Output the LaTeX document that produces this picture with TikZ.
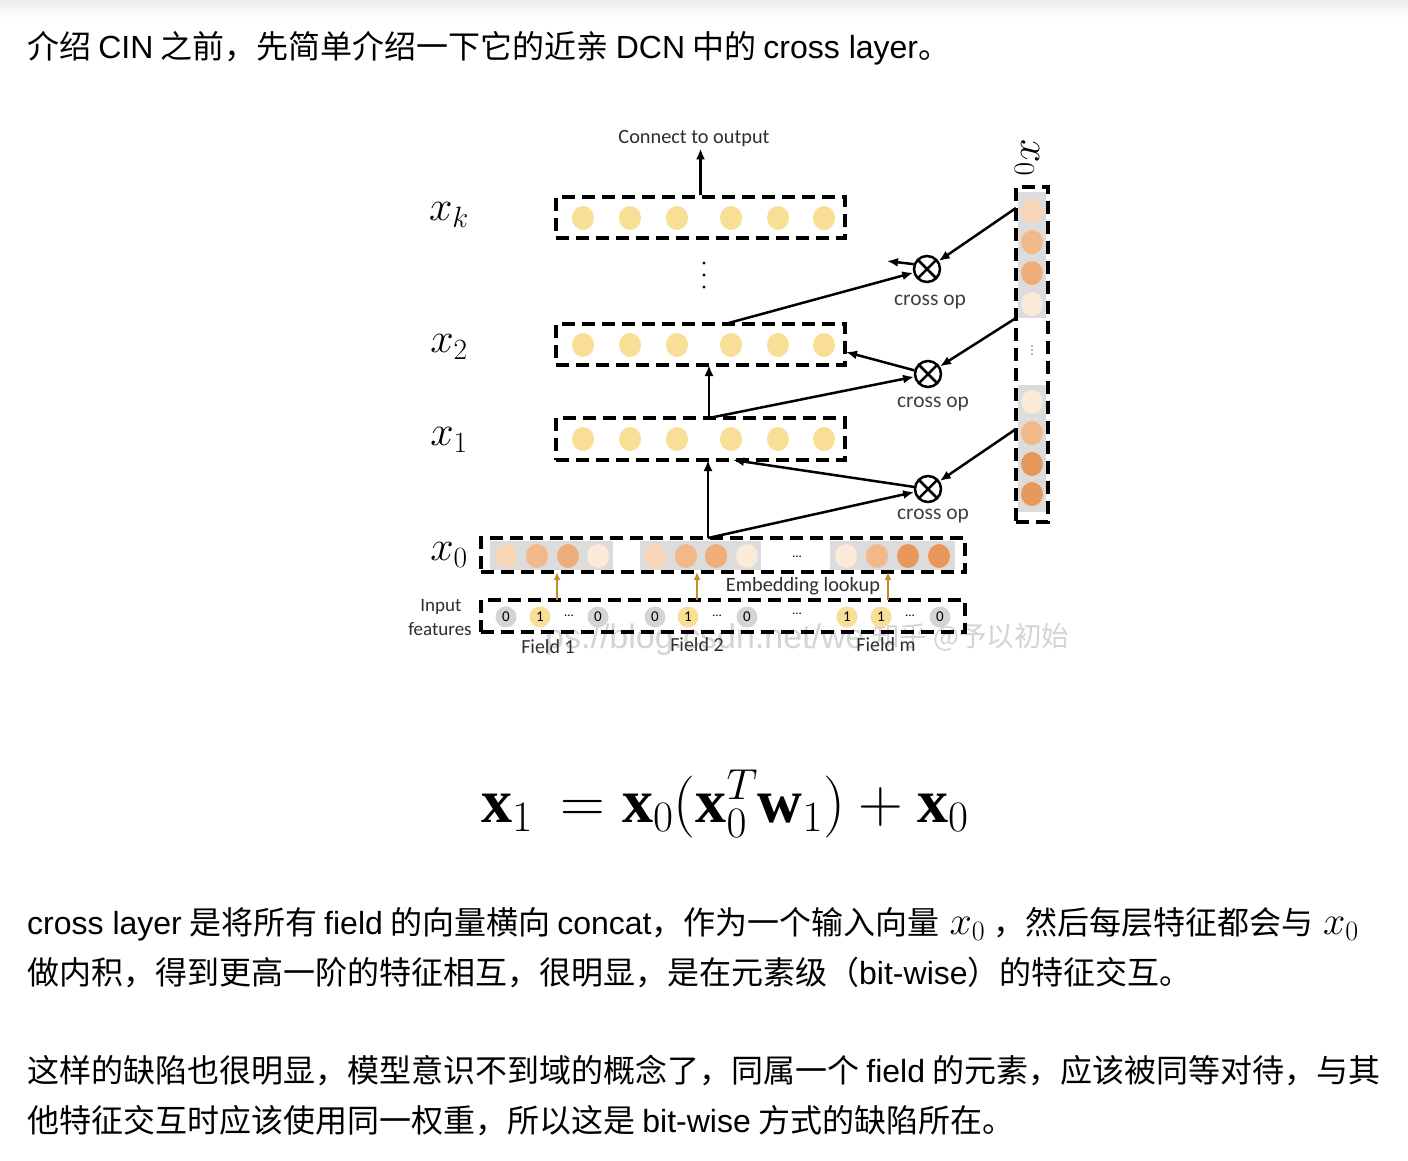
\RequirePackage{fix-cm}
\documentclass[tikz,border=0pt]{standalone}
\usepackage{amsmath}
\usepackage{fontspec}
\setmainfont{Noto Sans CJK SC}
\newfontfamily\lat{Liberation Sans}
\newfontfamily\calib{Carlito}
\newfontfamily\wmfont{Liberation Sans}
\newfontfamily\tms{Liberation Serif}
\newcommand\bx{\text{\tms\bfseries x}}
\newcommand\bw{\text{\tms\bfseries w}}
\newcommand\mxo{{\fontsize{40}{40}\selectfont$x_0$}}
\usetikzlibrary{arrows.meta}
\definecolor{ycol}{RGB}{249,222,150}
\definecolor{gbox}{RGB}{220,220,220}
\definecolor{oa}{RGB}{247,213,182}
\definecolor{ob}{RGB}{241,185,138}
\definecolor{oc}{RGB}{238,174,124}
\definecolor{od}{RGB}{251,234,216}
\definecolor{oe}{RGB}{233,152,92}
\definecolor{goldarr}{RGB}{190,145,40}
\definecolor{incg}{RGB}{212,212,212}
\definecolor{wm}{RGB}{212,212,212}
\tikzset{
  dbox/.style={draw, line width=3.2pt, dash pattern=on 13pt off 7pt, inner sep=0pt},
  conn/.style={line width=2.5pt, -{Latex[length=11pt,width=9pt]}},
  goldconn/.style={draw=goldarr, line width=2.2pt, -{Latex[length=8pt,width=7pt]}},
  crossop/.style={circle, draw, line width=2.5pt, minimum size=26pt, inner sep=0pt,
    path picture={\draw[line width=2.5pt] (path picture bounding box.north west)--(path picture bounding box.south east)
      (path picture bounding box.north east)--(path picture bounding box.south west);}},
  lbl/.style={font=\calib\fontsize{20.3}{22}\selectfont, text=black!82, inner sep=1pt},
  crosslbl/.style={font=\calib\fontsize{21.5}{22}\selectfont, text=black!75, inner sep=1pt},
  smalllbl/.style={font=\calib\fontsize{19}{20}\selectfont, text=black!82, inner sep=1pt},
  fieldlbl/.style={font=\calib\fontsize{20}{20}\selectfont, text=black!82, inner sep=1pt},
  rowlbl/.style={font=\fontsize{42}{44}\selectfont, inner sep=0pt},
  incirc/.style={circle, minimum size=21pt, inner sep=0pt, font=\calib\fontsize{15}{15}\selectfont},
  tinydots/.style={font=\calib\fontsize{13}{13}\selectfont, inner sep=0pt},
  para/.style={font=\fontsize{32}{38}\selectfont, anchor=base west, inner sep=0pt},
}
\begin{document}
\begin{tikzpicture}[x=1pt,y=-1pt]
\useasboundingbox (0,0) rectangle (1408,1160);
\fill[white] (0,0) rectangle (1408,1160);
\shade[top color=black!7, bottom color=white] (0,0) rectangle (1408,18);

% paragraph text
\node[para] (t1) at (27,58) {介绍 {\lat CIN} 之前，先简单介绍一下它的近亲 {\lat DCN} 中的 {\lat cross layer}。};
\node[para] (t2) at (27,934) {{\lat cross layer} 是将所有 {\lat field} 的向量横向 {\lat concat}，作为一个输入向量\hspace{10pt}\mxo\hspace{8pt}，然后每层特征都会与\hspace{10pt}\mxo};
\node[para] (t3) at (27,984) {做内积，得到更高一阶的特征相互，很明显，是在元素级（{\lat bit-wise}）的特征交互。};
\node[para] (t4) at (27,1082) {这样的缺陷也很明显，模型意识不到域的概念了，同属一个 {\lat field} 的元素，应该被同等对待，与其};
\node[para] (t5) at (27,1132) {他特征交互时应该使用同一权重，所以这是 {\lat bit-wise} 方式的缺陷所在。};

% formula
\node[anchor=base, inner sep=0pt, font=\fontsize{62}{62}\selectfont] (eq) at (725,822) {$\bx_1\, = \bx_0(\bx_0^{T}\bw_1) + \bx_0$};

% watermark
\node[anchor=base west, font=\wmfont\fontsize{34}{36}\selectfont, text=wm, inner sep=0pt] (wm1) at (545,648) {ps://blog.csdn.net/we};
\node[anchor=base west, font=\fontsize{27.5}{30}\selectfont, text=wm, inner sep=0pt] (wm2) at (872,646) {知乎 @予以初始};

% ---- diagram ----
\node[lbl] (cto) at (694,139) {Connect to output};

\node[dbox, minimum width=289pt, minimum height=41pt] (xk) at (700.5,217.5) {};
\node[dbox, minimum width=289pt, minimum height=41pt] (xb) at (700.5,344.5) {};
\node[dbox, minimum width=289pt, minimum height=42pt] (xa) at (700.5,439) {};

\foreach \yy in {218,345,439}{
  \foreach \xx in {583,630,677,731,778,824}{
    \fill[ycol] (\xx,\yy) ellipse (11pt and 12pt);
  }
}

\node[rowlbl] (lk) at (449,215) {$x_k$};
\node[rowlbl] (l2) at (449,347) {$x_2$};
\node[rowlbl] (l1) at (449,440) {$x_1$};
\node[rowlbl] (l0) at (449,555) {$x_0$};

\foreach \yy in {263,275,287}{ \fill (704,\yy) circle (1.6pt); }

% x0 row
\fill[gbox] (490,541) rectangle (613,570);
\fill[gbox] (640,541) rectangle (761,570);
\fill[gbox] (830,541) rectangle (955,570);
\node[dbox, minimum width=484pt, minimum height=34pt] (x0) at (723,555) {};
\foreach \xx/\cc in {506/oa,537/ob,568/oc,598/od,655/oa,686/ob,716/oc,747/od,846/od,877/ob,908/oe,939/oe}{
  \fill[\cc] (\xx,556) ellipse (11pt and 12pt);
}
\node[tinydots] (d0) at (797,557) {...};

% input features row
\node[dbox, minimum width=484pt, minimum height=32pt] (inp) at (723,616) {};
\node[incirc, fill=incg] (i1) at (506,617) {0};
\node[incirc, fill=ycol] (i2) at (540,617) {1};
\node[tinydots] (i3) at (569,616) {...};
\node[incirc, fill=incg] (i4) at (598,617) {0};
\node[incirc, fill=incg] (i5) at (655,617) {0};
\node[incirc, fill=ycol] (i6) at (688,617) {1};
\node[tinydots] (i7) at (717,616) {...};
\node[incirc, fill=incg] (i8) at (747,617) {0};
\node[tinydots] (i9) at (797,614) {...};
\node[incirc, fill=ycol] (i10) at (847,617) {1};
\node[incirc, fill=ycol] (i11) at (881,617) {1};
\node[tinydots] (i12) at (910,616) {...};
\node[incirc, fill=incg] (i13) at (940,617) {0};

\node[smalllbl] (inl1) at (441,607) {Input};
\node[smalllbl] (inl2) at (440,629) {features};
\node[fieldlbl] (f1) at (548,647) {Field 1};
\node[fieldlbl] (f2) at (697,645) {Field 2};
\node[fieldlbl] (fm) at (886,645) {Field m};
\node[lbl] (emb) at (803,586) {Embedding lookup};

\coordinate (ga1) at (557,600); \coordinate (gb1) at (557,572);
\coordinate (ga2) at (697,600); \coordinate (gb2) at (697,572);
\coordinate (ga3) at (888,600); \coordinate (gb3) at (888,572);
\draw[goldconn] (ga1) -- (gb1);
\draw[goldconn] (ga2) -- (gb2);
\draw[goldconn] (ga3) -- (gb3);

% right x0 column
\fill[gbox] (1018,192) rectangle (1046,318);
\fill[gbox] (1018,385) rectangle (1046,512);
\node[dbox, minimum width=32pt, minimum height=335pt] (rx) at (1032,354.5) {};
\foreach \yy/\cc in {211/oa,242/ob,273/oc,304/od,402/od,433/ob,464/oe,494/oe}{
  \fill[\cc] (1032,\yy) ellipse (11pt and 12pt);
}
\foreach \yy in {346,350,354}{ \fill[black!60] (1032,\yy) circle (0.8pt); }
\node[rowlbl, rotate=-90] (rxl) at (1027,158) {$x_0$};

% cross ops
\node[crossop] (c1) at (927,269) {};
\node[crossop] (c2) at (928,374) {};
\node[crossop] (c3) at (928,489) {};
\node[crosslbl] (cl1) at (930,302) {cross op};
\node[crosslbl] (cl2) at (933,404) {cross op};
\node[crosslbl] (cl3) at (933,516) {cross op};

\coordinate (r1) at (1016,208);
\coordinate (r2) at (1016,318);
\coordinate (r3) at (1016,429);
\coordinate (tb) at (725,324);
\coordinate (ta) at (709,418);
\coordinate (t0) at (708,538);
\coordinate (bb) at (709,365);
\coordinate (ba) at (708,460);
\coordinate (o1) at (887,261);
\coordinate (e2) at (846,352);
\coordinate (e1) at (733,460);

\draw[conn] (xk.north) -- (xk.north |- cto.south);
\draw[conn] (r1) -- (c1);
\draw[conn] (tb) -- (c1);
\draw[conn] (c1.160) -- (o1);
\draw[conn] (r2) -- (c2);
\draw[conn] (ta) -- (c2);
\draw[conn] (c2) -- (e2);
\draw[conn] (ta) -- (bb);
\draw[conn] (r3) -- (c3);
\draw[conn] (t0) -- (c3);
\draw[conn] (c3) -- (e1);
\draw[conn] (t0) -- (ba);
\end{tikzpicture}
\end{document}
